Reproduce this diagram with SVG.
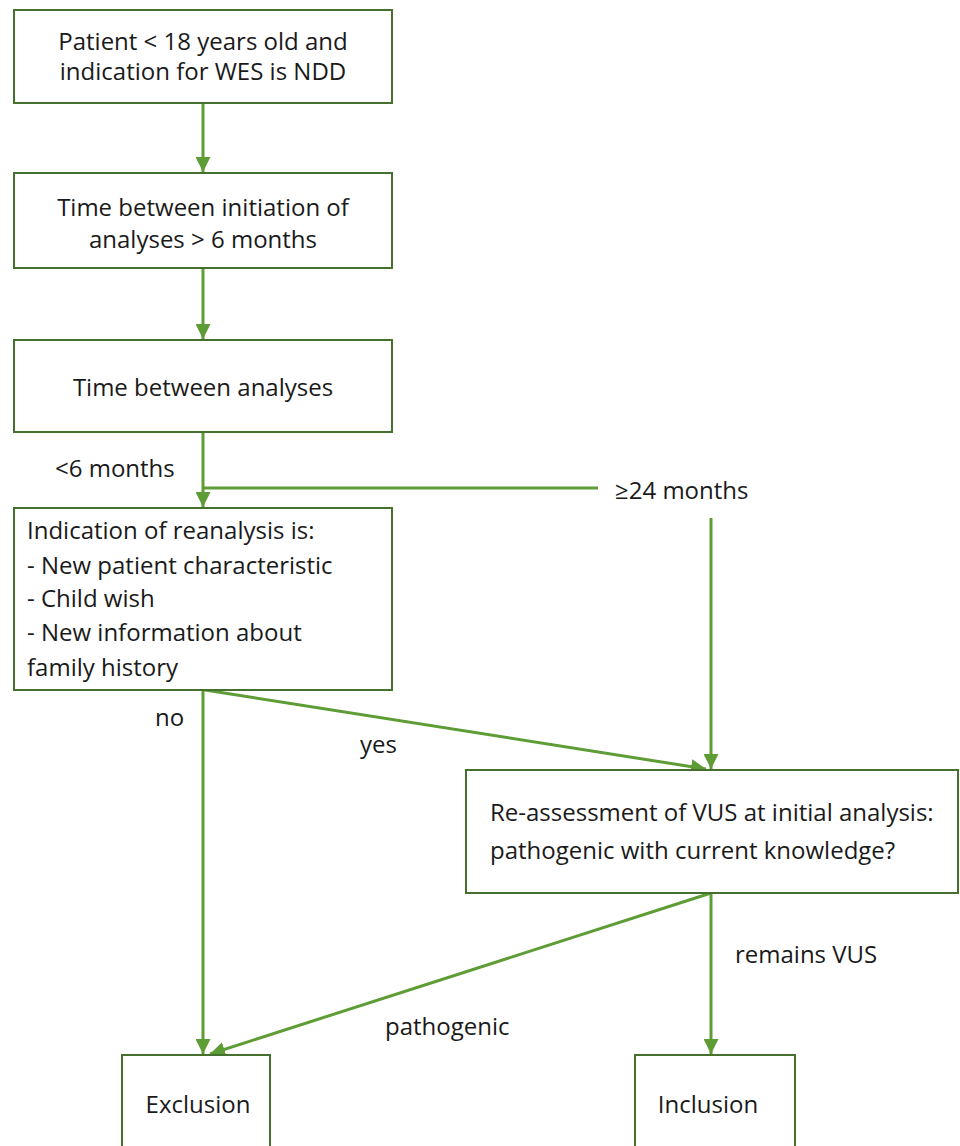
<svg xmlns="http://www.w3.org/2000/svg" width="960" height="1146" viewBox="0 0 960 1146">
<style>
.box{fill:#fff;stroke:#45702e;stroke-width:2}
.t{font-family:"Open Sans","Noto Sans",sans-serif;font-size:24px;fill:#1a1a1a}
.c{text-anchor:middle}
.ln{fill:none;stroke:#5e9c35;stroke-width:3}
</style>
<defs>
<marker id="ah" viewBox="0 0 10 10" refX="10" refY="5" markerWidth="5" markerHeight="5" orient="auto" markerUnits="strokeWidth">
<path d="M0,0 L10,5 L0,10 z" fill="#5e9c35"/>
</marker>
</defs>
<rect width="960" height="1146" fill="#fff"/>
<g id="connectors">
<line class="ln" x1="203" y1="103" x2="203" y2="172" marker-end="url(#ah)"/>
<line class="ln" x1="203" y1="268" x2="203" y2="339" marker-end="url(#ah)"/>
<line class="ln" x1="203" y1="432" x2="203" y2="507" marker-end="url(#ah)"/>
<line class="ln" x1="203" y1="488" x2="598" y2="488"/>
<line class="ln" x1="711" y1="518" x2="711" y2="769" marker-end="url(#ah)"/>
<line class="ln" x1="203" y1="690" x2="203" y2="1054" marker-end="url(#ah)"/>
<line class="ln" x1="205" y1="690" x2="706" y2="769" marker-end="url(#ah)"/>
<line class="ln" x1="711" y1="893" x2="711" y2="1054" marker-end="url(#ah)"/>
<line class="ln" x1="711" y1="893" x2="210" y2="1054" marker-end="url(#ah)"/>
<text class="t" x="55" y="477">&lt;6 months</text>
<text class="t" x="615" y="499">≥24 months</text>
<text class="t" x="155" y="726">no</text>
<text class="t" x="360" y="753">yes</text>
<text class="t" x="735" y="963">remains VUS</text>
<text class="t" x="385" y="1035">pathogenic</text>
</g>
<g id="n1">
<rect class="box" x="14" y="10" width="378" height="93"/>
<text class="t c" x="203" y="50">Patient &lt; 18 years old and</text>
<text class="t c" x="203" y="80">indication for WES is NDD</text>
</g>
<g id="n2">
<rect class="box" x="14" y="173" width="378" height="95"/>
<text class="t c" x="203" y="216">Time between initiation of</text>
<text class="t c" x="203" y="248">analyses &gt; 6 months</text>
</g>
<g id="n3">
<rect class="box" x="14" y="340" width="378" height="92"/>
<text class="t c" x="203" y="396">Time between analyses</text>
</g>
<g id="n4">
<rect class="box" x="14" y="508" width="378" height="182"/>
<text class="t" x="27" y="539">Indication of reanalysis is:</text>
<text class="t" x="27" y="574">- New patient characteristic</text>
<text class="t" x="27" y="607">- Child wish</text>
<text class="t" x="27" y="641">- New information about</text>
<text class="t" x="27" y="676">family history</text>
</g>
<g id="n5">
<rect class="box" x="466" y="770" width="492" height="123"/>
<text class="t" x="490" y="821">Re-assessment of VUS at initial analysis:</text>
<text class="t" x="490" y="859">pathogenic with current knowledge?</text>
</g>
<g id="n6">
<rect class="box" x="122" y="1055" width="148" height="100"/>
<text class="t c" x="198" y="1113">Exclusion</text>
</g>
<g id="n7">
<rect class="box" x="635" y="1055" width="160" height="100"/>
<text class="t c" x="708" y="1113">Inclusion</text>
</g>
</svg>
